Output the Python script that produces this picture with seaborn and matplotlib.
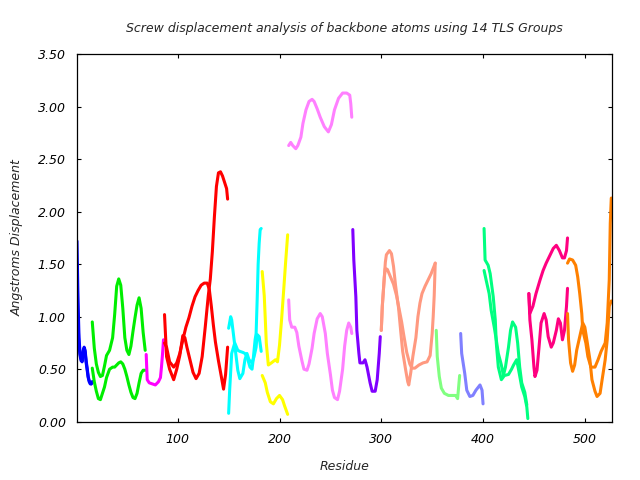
import matplotlib
matplotlib.use("Agg")
import matplotlib.pyplot as plt
import seaborn as sns
import pandas as pd

# ---------------- data (residue numbers / screw displacement, Angstroms) -------------
blue_res = [1, 2, 3, 4, 5, 6, 7, 8, 9, 10, 11, 12, 13, 14, 15, 16]
blue_a = [1.72, 1.15, 0.80, 0.65, 0.60, 0.57, 0.66, 0.71, 0.68, 0.58, 0.51, 0.43, 0.39, 0.37, 0.36, 0.38]
blue_b = [1.50, 0.95, 0.72, 0.63, 0.58, 0.58, 0.68, 0.70, 0.66, 0.56, 0.49, 0.42, 0.38, 0.36, 0.36, 0.38]

green_res = [16, 18, 20, 22, 24, 26, 28, 30, 33, 36, 38, 40, 42, 44, 46, 48, 50, 52, 54, 56, 58, 60, 62, 64, 66, 68]
green_a = [0.95, 0.70, 0.55, 0.47, 0.43, 0.44, 0.53, 0.63, 0.68, 0.80, 1.02, 1.29, 1.36, 1.30, 1.08, 0.80,
           0.68, 0.64, 0.72, 0.86, 0.99, 1.11, 1.18, 1.08, 0.85, 0.68]
green_b = [0.51, 0.38, 0.29, 0.22, 0.21, 0.27, 0.33, 0.42, 0.50, 0.52, 0.52, 0.54, 0.56, 0.57, 0.55, 0.50,
           0.43, 0.35, 0.28, 0.23, 0.22, 0.27, 0.37, 0.46, 0.49, 0.49]

magenta_res = [69, 70, 72, 75, 78, 81, 83, 84, 85, 86]
magenta_a = [0.64, 0.40, 0.37, 0.36, 0.35, 0.38, 0.42, 0.52, 0.64, 0.78]

red_a_res = [87, 89, 92, 96, 99, 102, 105, 107, 109, 112, 115, 118, 121, 124, 127, 130, 132, 134, 136,
             138, 140, 142, 144, 146, 148, 149]
red_a = [1.02, 0.62, 0.50, 0.40, 0.50, 0.63, 0.82, 0.80, 0.71, 0.59, 0.47, 0.41, 0.46, 0.62, 0.90, 1.20,
         1.36, 1.62, 1.95, 2.24, 2.37, 2.38, 2.34, 2.28, 2.22, 2.12]
red_b_res = [87, 89, 92, 96, 99, 102, 105, 108, 111, 114, 117, 120, 123, 126, 129, 131, 133, 135, 137,
             140, 143, 145, 147, 149]
red_b = [0.75, 0.71, 0.57, 0.52, 0.56, 0.65, 0.78, 0.90, 0.99, 1.10, 1.19, 1.25, 1.30, 1.32, 1.32, 1.26,
         1.10, 0.92, 0.76, 0.58, 0.42, 0.31, 0.45, 0.71]

cyan_a_res = [150, 151, 153, 156, 159, 161, 164, 166, 168, 171, 173, 174, 176, 177, 178, 179, 180, 181, 182]
cyan_a = [0.08, 0.30, 0.65, 0.75, 0.68, 0.67, 0.66, 0.65, 0.62, 0.52, 0.50, 0.58, 0.78, 0.84, 1.15, 1.50,
          1.70, 1.83, 1.84]
cyan_b_res = [150, 152, 153, 155, 157, 159, 161, 164, 166, 168, 170, 173, 175, 177, 178, 180, 182]
cyan_b = [0.89, 1.00, 0.97, 0.81, 0.65, 0.49, 0.41, 0.46, 0.59, 0.65, 0.59, 0.56, 0.62, 0.71, 0.83, 0.81, 0.67]

yellow_a_res = [183, 185, 186, 187, 189, 192, 196, 198, 200, 202, 204, 206, 208]
yellow_a = [1.43, 1.20, 0.98, 0.75, 0.54, 0.56, 0.59, 0.57, 0.73, 0.97, 1.24, 1.52, 1.78]
yellow_b_res = [183, 186, 188, 191, 194, 197, 200, 203, 205, 208]
yellow_b = [0.44, 0.37, 0.28, 0.19, 0.17, 0.22, 0.25, 0.21, 0.15, 0.07]

violet_a_res = [209, 210, 212, 215, 217, 219, 222, 224, 227, 229, 232, 234, 237, 240, 242, 245, 247, 250,
                252, 254, 257, 259, 262, 264, 266, 268, 270, 271]
violet_a = [1.16, 0.97, 0.90, 0.90, 0.85, 0.72, 0.58, 0.50, 0.49, 0.55, 0.70, 0.84, 0.98, 1.03, 1.00, 0.84,
            0.65, 0.45, 0.30, 0.23, 0.21, 0.29, 0.50, 0.72, 0.87, 0.94, 0.90, 0.84]
violet_b_res = [209, 211, 213, 216, 218, 221, 223, 226, 229, 232, 234, 237, 240, 244, 248, 251, 254, 258,
                262, 266, 269, 270, 271]
violet_b = [2.63, 2.66, 2.63, 2.60, 2.63, 2.71, 2.84, 2.97, 3.05, 3.07, 3.05, 2.98, 2.90, 2.81, 2.76, 2.83,
            2.97, 3.08, 3.13, 3.13, 3.11, 3.03, 2.90]

purple_res = [272, 273, 275, 276, 278, 279, 282, 284, 286, 289, 291, 294, 296, 298, 299]
purple_a = [1.83, 1.54, 1.19, 0.87, 0.65, 0.56, 0.56, 0.59, 0.52, 0.37, 0.29, 0.29, 0.40, 0.65, 0.81]

salmon_a_res = [300, 301, 303, 304, 305, 308, 310, 312, 314, 317, 319, 321, 324, 326, 327, 329, 331, 334,
                336, 338, 340, 343, 346, 349, 353]
salmon_a = [0.87, 1.10, 1.38, 1.52, 1.59, 1.63, 1.60, 1.48, 1.30, 1.08, 0.87, 0.67, 0.49, 0.38, 0.35, 0.47,
            0.62, 0.80, 1.00, 1.13, 1.22, 1.29, 1.35, 1.41, 1.51]
salmon_b_res = [300, 301, 303, 304, 306, 309, 312, 315, 318, 320, 322, 325, 328, 330, 333, 337, 341, 345,
                348, 350, 351, 352, 353]
salmon_b = [0.87, 1.10, 1.38, 1.46, 1.45, 1.38, 1.31, 1.20, 1.05, 0.95, 0.83, 0.66, 0.55, 0.51, 0.51, 0.54,
            0.56, 0.57, 0.63, 0.84, 1.00, 1.20, 1.51]

lightgreen_res = [354, 355, 357, 359, 362, 366, 370, 373, 375, 376, 377]
lightgreen_a = [0.87, 0.62, 0.43, 0.32, 0.27, 0.25, 0.25, 0.25, 0.22, 0.33, 0.44]

slate_res = [378, 379, 382, 384, 387, 390, 393, 397, 399, 400]
slate_a = [0.84, 0.65, 0.46, 0.30, 0.24, 0.25, 0.30, 0.35, 0.30, 0.17]

spring_a_res = [401, 402, 405, 407, 410, 412, 413, 415, 418, 421, 425, 428, 430, 433, 435, 438, 441, 443, 444]
spring_a = [1.84, 1.54, 1.49, 1.41, 1.19, 0.97, 0.75, 0.52, 0.40, 0.44, 0.45, 0.50, 0.54, 0.59, 0.49, 0.33,
            0.24, 0.14, 0.03]
spring_b_res = [401, 403, 406, 408, 411, 413, 415, 418, 420, 422, 425, 427, 429, 432, 434, 436, 438, 441, 443]
spring_b = [1.44, 1.35, 1.22, 1.06, 0.90, 0.78, 0.65, 0.54, 0.44, 0.52, 0.71, 0.87, 0.95, 0.90, 0.75, 0.52,
            0.37, 0.28, 0.16]

pink_a_res = [445, 446, 449, 452, 456, 459, 462, 466, 469, 472, 475, 478, 480, 482, 483]
pink_a = [1.22, 1.03, 1.10, 1.22, 1.35, 1.44, 1.51, 1.59, 1.65, 1.68, 1.63, 1.56, 1.56, 1.63, 1.75]
pink_b_res = [445, 446, 448, 450, 451, 453, 455, 457, 460, 462, 464, 467, 469, 472, 474, 476, 478, 480, 482, 483]
pink_b = [1.22, 0.97, 0.78, 0.52, 0.43, 0.49, 0.71, 0.94, 1.03, 0.97, 0.81, 0.71, 0.75, 0.87, 0.98, 0.94,
          0.78, 0.87, 1.10, 1.27]

orange_a_res = [483, 485, 488, 491, 493, 495, 497, 498, 501, 503, 506, 510, 513, 516, 520, 522, 524, 525, 526]
orange_a = [1.51, 1.55, 1.54, 1.49, 1.38, 1.22, 1.03, 0.87, 0.75, 0.62, 0.52, 0.52, 0.59, 0.67, 0.75, 0.94,
            1.35, 1.89, 2.13]
orange_b_res = [483, 484, 486, 488, 490, 492, 495, 498, 500, 502, 505, 507, 510, 512, 515, 517, 520, 522, 524, 526]
orange_b = [1.03, 0.78, 0.56, 0.48, 0.54, 0.68, 0.81, 0.94, 0.90, 0.78, 0.59, 0.40, 0.29, 0.24, 0.27, 0.40,
            0.59, 0.78, 1.10, 1.15]

group_names = ["Group 1", "Group 2", "Group 3", "Group 4", "Group 5", "Group 6", "Group 7",
               "Group 8", "Group 9", "Group 10", "Group 11", "Group 12", "Group 13", "Group 14"]
group_colors = ["#0000ff", "#00ee00", "#ff00ff", "#ff0000", "#00ffff", "#ffff00", "#ff80ff",
                "#8000ff", "#ff9980", "#80ff80", "#8080ff", "#00ff80", "#ff0080", "#ff8000"]

x_ticks = [100, 200, 300, 400, 500]
y_ticks = [0.0, 0.5, 1.0, 1.5, 2.0, 2.5, 3.0, 3.5]

# ---------------- build long table ----------------
curves = [
    (0, blue_res, blue_a), (0, blue_res, blue_b),
    (1, green_res, green_a), (1, green_res, green_b),
    (2, magenta_res, magenta_a),
    (3, red_a_res, red_a), (3, red_b_res, red_b),
    (4, cyan_a_res, cyan_a), (4, cyan_b_res, cyan_b),
    (5, yellow_a_res, yellow_a), (5, yellow_b_res, yellow_b),
    (6, violet_a_res, violet_a), (6, violet_b_res, violet_b),
    (7, purple_res, purple_a),
    (8, salmon_a_res, salmon_a), (8, salmon_b_res, salmon_b),
    (9, lightgreen_res, lightgreen_a),
    (10, slate_res, slate_a),
    (11, spring_a_res, spring_a), (11, spring_b_res, spring_b),
    (12, pink_a_res, pink_a), (12, pink_b_res, pink_b),
    (13, orange_a_res, orange_a), (13, orange_b_res, orange_b),
]
rows = []
for cid, (g, res, vals) in enumerate(curves):
    for r, v in zip(res, vals):
        rows.append({"residue": r, "disp": v, "group": group_names[g], "curve": cid})
df = pd.DataFrame(rows)

# ---------------- plot ----------------
sns.set_style("ticks")
plt.rcParams["font.family"] = ["DejaVu Sans"]
plt.rcParams["font.style"] = "italic"

fig = plt.figure(figsize=(6.4, 4.8), dpi=100)
ax = fig.add_axes([77 / 640, 1 - 421.7 / 480, (612.3 - 77) / 640, (421.7 - 54.2) / 480])

sns.lineplot(data=df, x="residue", y="disp", hue="group", units="curve", estimator=None,
             palette=dict(zip(group_names, group_colors)), hue_order=group_names,
             linewidth=2.2, legend=False, sort=False, ax=ax)

ax.set_xlim(1, 527)
ax.set_ylim(0, 3.5)
ax.set_xticks(x_ticks)
ax.set_xticklabels([str(t) for t in x_ticks])
ax.set_yticks(y_ticks)
ax.set_yticklabels(["%.2f" % t for t in y_ticks])
ax.tick_params(direction="in", length=3, width=0.8, top=True, right=True,
               labelsize=9, colors="black")
ax.tick_params(axis="x", pad=8)
ax.tick_params(axis="y", pad=8)
for s in ax.spines.values():
    s.set_visible(True)
    s.set_linewidth(0.9)
    s.set_color("black")

ax.set_xlabel("Residue", fontsize=9, style="italic", labelpad=10)
ax.set_ylabel("Angstroms Displacement", fontsize=9, style="italic", labelpad=10)
ax.set_title("Screw displacement analysis of backbone atoms using 14 TLS Groups",
             fontsize=9, style="italic", pad=16)

fig.savefig("out.png", dpi=100)
